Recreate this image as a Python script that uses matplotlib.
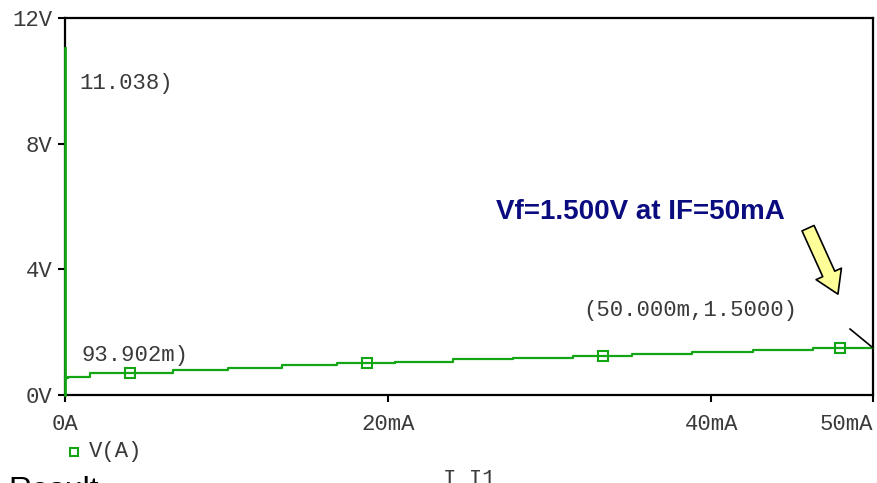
import numpy as np
import matplotlib
matplotlib.use('Agg')
import matplotlib.pyplot as plt
from matplotlib.patches import FancyArrowPatch
from matplotlib.lines import Line2D

plt.rcParams['font.family'] = ['Liberation Mono', 'DejaVu Sans Mono']

# forward sweep of the LED: I (mA) at each output step, V (volts) held until the next step
i_steps = [0.0, 0.2, 1.55, 6.68, 10.09, 13.43, 16.83, 20.42, 24.01, 27.72,
           31.44, 35.09, 38.80, 42.57, 46.29, 50.0]
v_steps = [0.55, 0.58, 0.69, 0.80, 0.87, 0.95, 1.01, 1.06, 1.14, 1.19,
           1.25, 1.31, 1.38, 1.44, 1.50, 1.50]
# start-up spike at 0 A
spike_i = [0.0, 0.0]
spike_v = [0.0, 11.038]
# trace marker positions (mA)
marker_i = [4.02, 18.69, 33.29, 47.96]

x_ticks = [0, 20, 40, 50]
x_labels = ['0A', '20mA', '40mA', '50mA']
y_ticks = [0, 4, 8, 12]
y_labels = ['0V', '4V', '8V', '12V']

green = '#14a514'
txt = '#3a3a3a'
fs = 16

fig = plt.figure(figsize=(8.77, 4.83), dpi=100)
ax = fig.add_axes([65 / 877, 1 - 395 / 483, 808 / 877, 377 / 483])

ax.plot(spike_i, spike_v, color=green, lw=2.0, clip_on=False, zorder=5)
ax.step(i_steps, v_steps, where='post', color=green, lw=1.6, clip_on=False, zorder=5)

idx = np.searchsorted(i_steps, marker_i, side='right') - 1
marker_v = np.array(v_steps)[idx]
ax.plot(marker_i, marker_v, ls='none', marker='s', ms=6.5, mfc='none',
        mec=green, mew=1.5, zorder=6)

ax.set_xlim(0, 50)
ax.set_ylim(0, 12)
ax.set_xticks(x_ticks)
ax.set_xticklabels(x_labels)
ax.set_yticks(y_ticks)
ax.set_yticklabels(y_labels)
ax.tick_params(axis='both', direction='out', length=5, width=1.5, colors='black',
               labelcolor=txt, labelsize=fs)
ax.tick_params(axis='x', pad=9)
ax.tick_params(axis='y', pad=4)
ax.get_xticklabels()[-1].set_ha('right')
for s in ax.spines.values():
    s.set_linewidth(1.6)
    s.set_color('black')

# cursor readouts
ax.text(0.86, 9.93, '11.038)', color=txt, fontsize=fs, va='center', ha='left')
ax.text(1.05, 1.27, '93.902m)', color=txt, fontsize=fs, va='center', ha='left')
ax.text(38.7, 2.7, '(50.000m,1.5000)', color=txt, fontsize=fs, va='center', ha='center')
ax.plot([i_steps[-1], 48.58], [v_steps[-1], 2.10], color='black', lw=1.2,
        clip_on=False, zorder=7)

# callout
ax.text(26.7, 5.82, 'Vf=1.500V at IF=50mA', color='#0b0b80', fontsize=20,
        fontweight='bold', family=['Liberation Sans', 'DejaVu Sans'],
        va='center', ha='left')
arrow = FancyArrowPatch((45.98, 5.31), (47.83, 3.21),
                        arrowstyle='simple,head_width=20,head_length=16,tail_width=9.5',
                        mutation_scale=1, shrinkA=0, shrinkB=0,
                        fc='#ffff99', ec='black', lw=1.2, zorder=8)
ax.add_patch(arrow)

# trace legend
fig.add_artist(Line2D([74 / 877], [1 - 452 / 483], marker='s', ms=5.5, mfc='none',
                      mec=green, mew=1.5, ls='none'))
fig.text(89 / 877, 1 - 452 / 483, 'V(A)', color=txt, fontsize=fs, va='center', ha='left')

# page text below the plot window
fig.text(8 / 877, -0.034, 'Result', color='black', fontsize=23,
         family=['Liberation Sans', 'DejaVu Sans'], va='baseline', ha='left')
fig.text(443 / 877, -0.004, 'I_I1', color=txt, fontsize=fs, va='baseline', ha='left')

fig.savefig('out.png', dpi=100)
